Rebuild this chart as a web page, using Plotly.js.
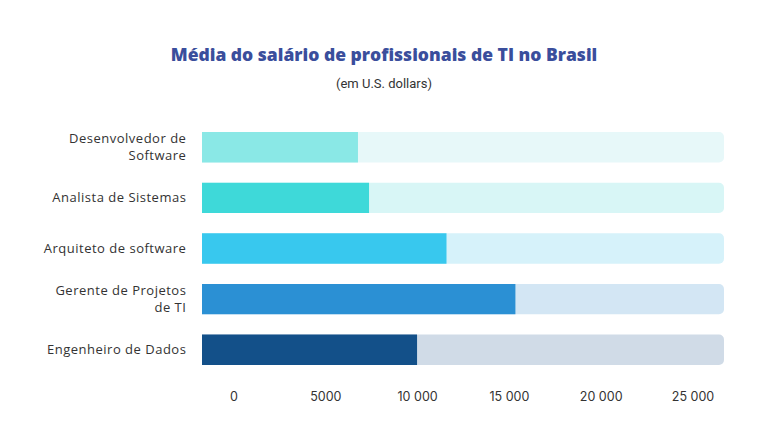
<!DOCTYPE html>
<html>
<head>
<meta charset="utf-8">
<script src="https://cdn.plot.ly/plotly-3.0.1.min.js"></script>
<style>
  html, body { margin: 0; padding: 0; background: #ffffff; }
  #chart { width: 768px; height: 432px; }
  #chart .ytick text { letter-spacing: 0.5px; }
</style>
</head>
<body>
<div id="chart"></div>
<script>
// roles, top to bottom
const roles = [
    'Desenvolvedor de<br>Software',
    'Analista de Sistemas',
    'Arquiteto de software',
    'Gerente de Projetos<br>de TI',
    'Engenheiro de Dados'
];
const salaries = [7470, 8000, 11710, 15010, 10300];
const scaleMax = 25000;

const barColors = ['#8ae8e6', '#3ed9d9', '#38c8ee', '#2b90d4', '#135089'];
const trackColors = ['#e7f8f9', '#d8f6f6', '#d6f2fa', '#d3e6f4', '#d0dbe7'];

const tickVals = [0, 5000, 10000, 15000, 20000, 25000];
const tickText = ['0', '5000', '10 000', '15 000', '20 000', '25 000'];

const track = {
    type: 'bar',
    orientation: 'h',
    y: roles,
    x: roles.map(() => scaleMax),
    marker: {color: trackColors},
    width: 0.6,
    hoverinfo: 'skip',
    showlegend: false
};

const bars = {
    type: 'bar',
    orientation: 'h',
    y: roles,
    x: salaries,
    marker: {color: barColors},
    width: 0.6,
    showlegend: false
};

// the value labels under the chart sit on their own scale
const ticks = {
    type: 'scatter',
    mode: 'markers',
    x: tickVals,
    y: roles.map(() => roles[0]),
    xaxis: 'x2',
    marker: {opacity: 0},
    hoverinfo: 'skip',
    showlegend: false
};

const layout = {
    width: 768,
    height: 432,
    margin: {l: 202, r: 44, t: 122, b: 57},
    paper_bgcolor: '#ffffff',
    plot_bgcolor: '#ffffff',
    barmode: 'overlay',
    barcornerradius: 5,
    font: {family: 'Open Sans, sans-serif', color: '#333333', size: 12},
    title: {
        text: 'Média do salário de profissionais de TI no Brasil',
        font: {family: 'Open Sans, sans-serif', size: 17.5, weight: 800, color: '#3a4e9c'},
        x: 0.5,
        xanchor: 'center',
        xref: 'container',
        y: 377 / 432,
        yanchor: 'middle'
    },
    annotations: [{
        text: '(em U.S. dollars)',
        xref: 'paper',
        yref: 'paper',
        x: (384 - 202) / 522,
        y: (375 - 83) / 253,
        xanchor: 'center',
        yanchor: 'middle',
        showarrow: false,
        font: {family: 'Roboto, sans-serif', size: 13, color: '#333333'}
    }],
    xaxis: {
        range: [0, scaleMax],
        showgrid: false,
        zeroline: false,
        showline: false,
        showticklabels: false,
        fixedrange: true
    },
    xaxis2: {
        overlaying: 'x',
        side: 'bottom',
        anchor: 'y',
        range: [-1743, 26689],
        tickvals: tickVals,
        ticktext: tickText,
        ticks: 'outside',
        ticklen: 10,
        tickcolor: 'rgba(0,0,0,0)',
        showgrid: false,
        zeroline: false,
        showline: false,
        tickfont: {family: 'Inter, sans-serif', size: 12.5, color: '#333333'},
        fixedrange: true
    },
    yaxis: {
        autorange: 'reversed',
        showgrid: false,
        zeroline: false,
        showline: false,
        ticks: 'outside',
        ticklen: 12,
        tickcolor: 'rgba(0,0,0,0)',
        tickfont: {family: 'Open Sans, sans-serif', size: 13, color: '#333333'},
        fixedrange: true
    }
};

Plotly.newPlot('chart', [track, bars, ticks], layout, {displayModeBar: false, staticPlot: true});
</script>
</body>
</html>
